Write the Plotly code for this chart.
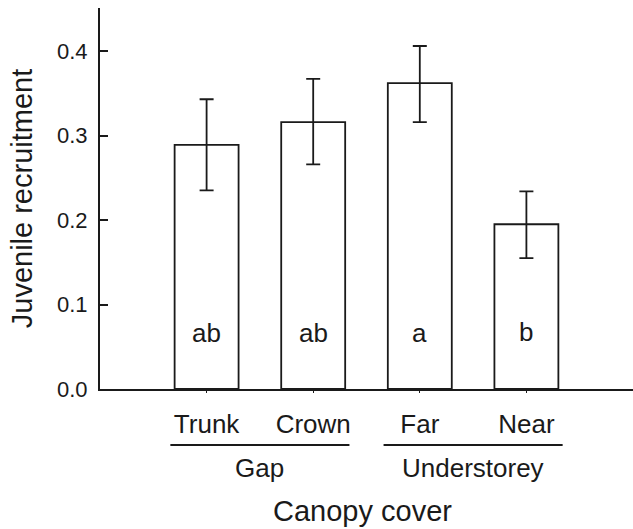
import plotly.graph_objects as go

# ---- data ----
categories = ["Trunk", "Crown", "Far", "Near"]
means = [0.289, 0.316, 0.362, 0.195]
upper = [0.343, 0.367, 0.406, 0.234]
lower = [0.235, 0.266, 0.316, 0.155]
letters = ["ab", "ab", "a", "b"]
letter_y = [0.066, 0.066, 0.066, 0.068]
group_names = ["Gap", "Understorey"]
group_start = [0, 2]
group_end = [1, 3]
y_ticks = [0.0, 0.1, 0.2, 0.3, 0.4]
y_ticktext = ["0.0", "0.1", "0.2", "0.3", "0.4"]
x_title = "Canopy cover"
y_title = "Juvenile recruitment"

FONT = "Liberation Sans, Arial, Helvetica, sans-serif"
INK = "#1a1a1a"
W, H = 633, 529
ML, MR, MT, MB = 100, 0, 8, 140
PH = H - MT - MB

xs = list(range(len(categories)))
err_plus = [u - m for u, m in zip(upper, means)]
err_minus = [m - l for m, l in zip(means, lower)]

fig = go.Figure()
fig.add_trace(go.Bar(
    x=xs, y=means, width=0.6,
    marker=dict(color="white", line=dict(color=INK, width=1.8)),
    error_y=dict(type="data", symmetric=False, array=err_plus, arrayminus=err_minus,
                 color=INK, thickness=1.8, width=7),
    showlegend=False, hoverinfo="skip",
))

# significance letters
for x, t, ly in zip(xs, letters, letter_y):
    fig.add_annotation(x=x, y=ly, xref="x", yref="y", text=t, showarrow=False,
                       font=dict(family=FONT, size=26, color=INK), yanchor="middle")

def paper_y(px_below_axis):
    return -px_below_axis / PH

# group lines and labels
for name, s, e in zip(group_names, group_start, group_end):
    x0 = s - 0.34
    x1 = e + 0.34
    fig.add_shape(type="line", xref="x", yref="paper", x0=x0, x1=x1,
                  y0=paper_y(56), y1=paper_y(56), line=dict(color=INK, width=2))
    fig.add_annotation(x=(s + e) / 2, y=paper_y(79), xref="x", yref="paper", text=name,
                       showarrow=False, yanchor="middle",
                       font=dict(family=FONT, size=26, color=INK))

# x-axis title (centred under the bars)
fig.add_annotation(x=(xs[0] + xs[-1]) / 2, xshift=-4, y=paper_y(122), xref="x", yref="paper",
                   text=x_title, showarrow=False, yanchor="middle",
                   font=dict(family=FONT, size=29, color=INK))

fig.update_layout(
    width=W, height=H,
    margin=dict(l=ML, r=MR, t=MT, b=MB, autoexpand=False),
    paper_bgcolor="white", plot_bgcolor="white",
    font=dict(family=FONT, color=INK),
    bargap=0.4,
)
fig.update_xaxes(
    range=[-1, 4], tickmode="array", tickvals=xs, ticktext=categories,
    ticks="outside", ticklen=2, tickwidth=1, tickcolor=INK,
    tickfont=dict(family=FONT, size=26, color=INK), ticklabelstandoff=9,
    showline=True, linecolor=INK, linewidth=2, showgrid=False, zeroline=False,
)
fig.update_yaxes(
    range=[0, 0.451], tickmode="array", tickvals=y_ticks, ticktext=y_ticktext,
    ticks="inside", ticklen=8, tickwidth=1.8, tickcolor=INK,
    tickfont=dict(family=FONT, size=22, color=INK), ticklabelstandoff=6,
    showline=True, linecolor=INK, linewidth=2, showgrid=False, zeroline=False,
    title=dict(text=y_title, font=dict(family=FONT, size=29, color=INK), standoff=16),
)

fig.write_html("out.html")
